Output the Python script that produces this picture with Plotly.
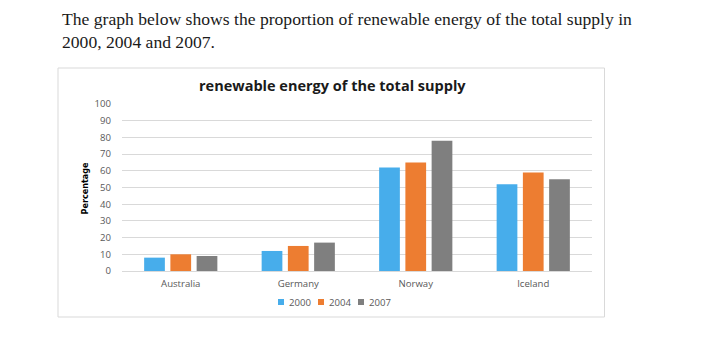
import plotly.graph_objects as go

# ---- data ----
countries = ["Australia", "Germany", "Norway", "Iceland"]
years = ["2000", "2004", "2007"]
v2000 = [8, 12, 62, 52]
v2004 = [10, 15, 65, 59]
v2007 = [9, 17, 78, 55]
yticks = [0, 10, 20, 30, 40, 50, 60, 70, 80, 90, 100]

title_text = "renewable energy of the total supply"
y_title = "Percentage"
intro_line1 = "The graph below shows the proportion of renewable energy of the total supply in"
intro_line2 = "2000, 2004 and 2007."

colors = ["#47ADEB", "#ED7D31", "#7F7F7F"]
series = [v2000, v2004, v2007]

W, H = 704, 346
L, R, T, B = 122, 592, 104, 271  # plot area in pixels


def px(x):
    return (x - L) / (R - L)


def py(y):
    return (B - y) / (B - T)


fig = go.Figure()
for name, vals, col in zip(years, series, colors):
    fig.add_trace(go.Bar(x=countries, y=vals, name=name, marker_color=col,
                         marker_line_width=0))

font_sans = "Open Sans, Segoe UI, Arial, sans-serif"
small = 9.6

fig.update_layout(
    width=W, height=H,
    margin=dict(l=L, r=W - R, t=T, b=H - B, pad=0),
    paper_bgcolor="white", plot_bgcolor="white",
    barmode="group", bargap=0.33, bargroupgap=0.21,
    showlegend=False,
    font=dict(family=font_sans, size=small, color="#595959"),
)
fig.update_yaxes(range=[0, 100], tickvals=yticks, showgrid=True,
                 gridcolor="#D9D9D9", gridwidth=1, zeroline=True,
                 zerolinecolor="#D9D9D9", zerolinewidth=1, showline=False,
                 ticks="", ticklabelstandoff=10,
                 tickfont=dict(family=font_sans, size=small, color="#595959"),
                 fixedrange=True)
fig.update_xaxes(showline=False, ticks="", showgrid=False,
                 tickfont=dict(family=font_sans, size=small, color="#595959"),
                 ticklabelstandoff=5, fixedrange=True)

shapes = []
# chart box
shapes.append(dict(type="rect", xref="paper", yref="paper",
                   x0=px(58), x1=px(604.5), y0=py(317), y1=py(68),
                   line=dict(color="#D9D9D9", width=1), fillcolor="rgba(0,0,0,0)",
                   layer="below"))
annotations = []
serif = dict(family="Liberation Serif, Times New Roman, serif", size=17.6, color="#1a1a1a")
# intro text
annotations.append(dict(text=intro_line1, xref="paper", yref="paper",
                        x=px(60), y=py(19), xanchor="left", yanchor="middle",
                        showarrow=False, font=serif))
annotations.append(dict(text=intro_line2, xref="paper", yref="paper",
                        x=px(60), y=py(42), xanchor="left", yanchor="middle",
                        showarrow=False, font=serif))
# chart title
annotations.append(dict(text="<b>" + title_text + "</b>", xref="paper", yref="paper",
                        x=px(332), y=py(85), xanchor="center", yanchor="middle",
                        showarrow=False,
                        font=dict(family=font_sans, size=14.5, color="#1a1a1a")))
# y title
annotations.append(dict(text="<b>" + y_title + "</b>", xref="paper", yref="paper",
                        x=px(84), y=py(188.5), xanchor="center", yanchor="middle",
                        textangle=-90, showarrow=False,
                        font=dict(family="Liberation Sans Narrow, Arial Narrow, DejaVu Sans Condensed, sans-serif",
                                  size=9, color="#000000")))
# legend
leg_x = [278, 318, 358]
for lx, name, col in zip(leg_x, years, colors):
    shapes.append(dict(type="rect", xref="paper", yref="paper",
                       x0=px(lx), x1=px(lx + 6), y0=py(305), y1=py(299),
                       line=dict(width=0), fillcolor=col))
    annotations.append(dict(text=name, xref="paper", yref="paper",
                            x=px(lx + 8.5), y=py(302), xanchor="left", yanchor="middle",
                            showarrow=False,
                            font=dict(family=font_sans, size=small, color="#595959")))

fig.update_layout(shapes=shapes, annotations=annotations)
fig.write_html("out.html", config={"displayModeBar": False})
